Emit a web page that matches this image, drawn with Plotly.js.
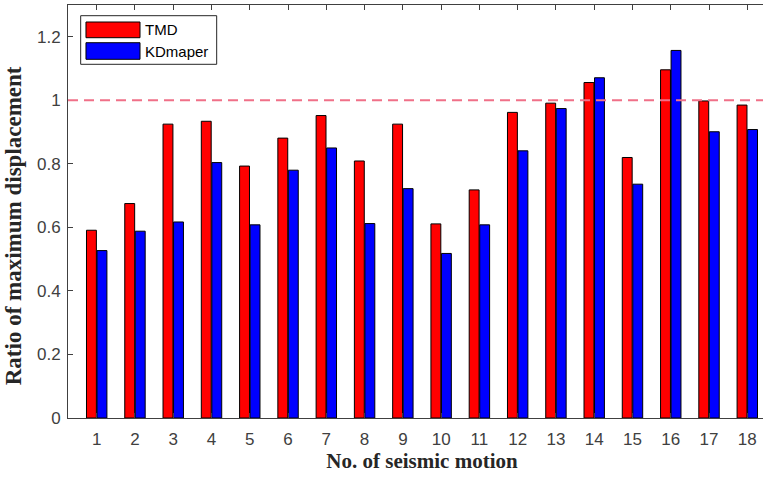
<!DOCTYPE html>
<html>
<head>
<meta charset="utf-8">
<script src="https://cdn.plot.ly/plotly-3.0.1.min.js"></script>
<style>
html,body{margin:0;padding:0;overflow:hidden;background:#fff;}
#chart{width:800px;height:477px;}
</style>
</head>
<body>
<div id="chart"></div>
<script>
const categories = ['1','2','3','4','5','6','7','8','9','10','11','12','13','14','15','16','17','18'];
const tmd = [0.591,0.675,0.925,0.934,0.793,0.881,0.952,0.809,0.925,0.611,0.718,0.962,0.991,1.056,0.820,1.096,0.998,0.985];
const kdamper = [0.527,0.588,0.617,0.804,0.608,0.780,0.850,0.612,0.722,0.518,0.608,0.841,0.974,1.071,0.736,1.157,0.901,0.908];
const seriesNames = ['TMD','KDmaper'];
const refLevel = 1;
const yTicks = [0,0.2,0.4,0.6,0.8,1,1.2];
const yTickText = ['0','0.2','0.4','0.6','0.8','1','1.2'];

const xs = categories.map(c => Number(c));
const traces = [
  {type:'bar', name:seriesNames[0], x:xs, y:tmd, marker:{color:'#ff0000', line:{color:'#000000', width:1}}},
  {type:'bar', name:seriesNames[1], x:xs, y:kdamper, marker:{color:'#0000ff', line:{color:'#000000', width:1}}}
];

const axisFont = {family:'Liberation Sans, Arial, sans-serif', size:17, color:'#404040'};
const xTitleFont = {family:'Liberation Serif, Times New Roman, serif', size:21, color:'#262626'};
const yTitleFont = {family:'Liberation Serif, Times New Roman, serif', size:23, color:'#262626'};

const layout = {
  width:800, height:477,
  margin:{l:68, r:24, t:5, b:59},
  paper_bgcolor:'#ffffff', plot_bgcolor:'#ffffff',
  showlegend:false,
  barmode:'group', bargap:0.45, bargroupgap:0.06,
  xaxis:{
    range:[0.25,18.75], tickmode:'array', tickvals:xs, ticktext:categories,
    ticks:'inside', ticklen:5, tickcolor:'#404040', showline:true, linecolor:'#404040', linewidth:1,
    mirror:'ticks', showgrid:false, zeroline:false, tickfont:axisFont, ticklabelstandoff:6,
    title:{text:'<b>No. of seismic motion</b>', font:xTitleFont, standoff:4}
  },
  yaxis:{
    range:[0,1.3], tickmode:'array', tickvals:yTicks, ticktext:yTickText,
    ticks:'inside', ticklen:5, tickcolor:'#404040', showline:true, linecolor:'#404040', linewidth:1,
    mirror:'ticks', showgrid:false, zeroline:false, tickfont:axisFont, ticklabelstandoff:3,
    title:{text:'<b>Ratio of maximum displacement</b>&nbsp;&nbsp;&nbsp;&nbsp;&nbsp;', font:yTitleFont, standoff:8}
  },
  shapes:[
    {type:'line', xref:'paper', x0:0, x1:1, yref:'y', y0:refLevel, y1:refLevel,
     line:{color:'#f07088', width:2, dash:'10px,6px'}},
    {type:'rect', xref:'paper', yref:'paper', x0:0.0179, x1:0.2100, y0:0.8564, y1:0.9741,
     fillcolor:'#ffffff', line:{color:'#262626', width:1}},
    {type:'rect', xref:'paper', yref:'paper', x0:0.0254, x1:0.1017, y0:0.9208, y1:0.9588,
     fillcolor:'#ff0000', line:{color:'#000000', width:1}},
    {type:'rect', xref:'paper', yref:'paper', x0:0.0254, x1:0.1017, y0:0.8685, y1:0.9087,
     fillcolor:'#0000ff', line:{color:'#000000', width:1}}
  ],
  annotations:[
    {xref:'paper', yref:'paper', x:0.1055, y:0.9398, xanchor:'left', yanchor:'middle', showarrow:false,
     text:seriesNames[0], font:{family:'Liberation Sans, Arial, sans-serif', size:15, color:'#000000'}},
    {xref:'paper', yref:'paper', x:0.1055, y:0.8886, xanchor:'left', yanchor:'middle', showarrow:false,
     text:seriesNames[1], font:{family:'Liberation Sans, Arial, sans-serif', size:15, color:'#000000'}}
  ]
};

Plotly.newPlot('chart', traces, layout, {displayModeBar:false, staticPlot:true});
</script>
</body>
</html>
